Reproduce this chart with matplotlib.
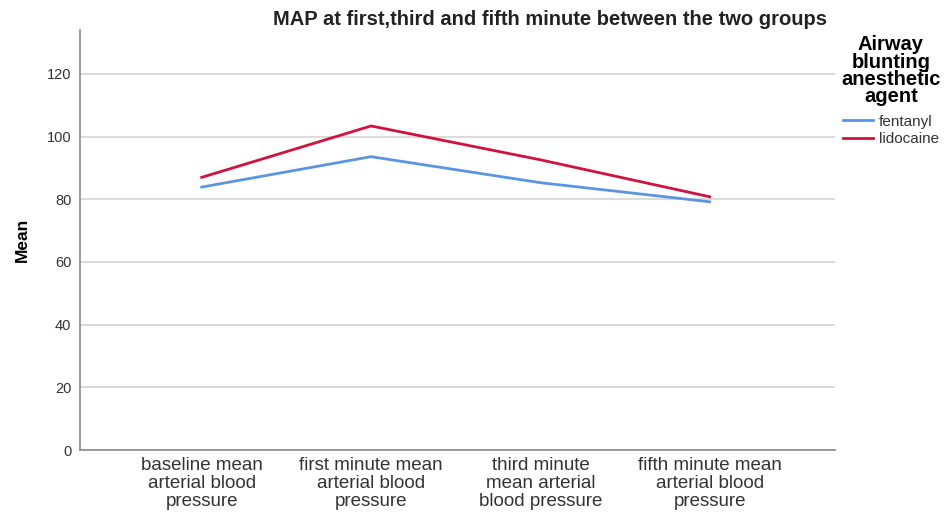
import matplotlib
matplotlib.use("Agg")
import matplotlib.pyplot as plt

plt.rcParams["font.family"] = ["Liberation Sans", "DejaVu Sans"]

categories = [
    "baseline mean\narterial blood\npressure",
    "first minute mean\narterial blood\npressure",
    "third minute\nmean arterial\nblood pressure",
    "fifth minute mean\narterial blood\npressure",
]
fentanyl = [83.9, 93.6, 85.3, 79.2]
lidocaine = [87.0, 103.4, 92.6, 80.8]
yticks = [0, 20, 40, 60, 80, 100, 120]

fig = plt.figure(figsize=(9.5, 5.14), dpi=100)
ax = fig.add_axes([0.084, 0.1245, 0.795, 0.817])

x = list(range(len(categories)))
ax.plot(x, fentanyl, color="#5B95E2", lw=2.0, label="fentanyl", zorder=3)
ax.plot(x, lidocaine, color="#D0123E", lw=2.0, label="lidocaine", zorder=3)

ax.set_xlim(-0.72, 3.74)
ax.set_ylim(0, 134)
ax.set_yticks(yticks)
ax.set_xticks(x)
ax.set_xticklabels(categories, fontsize=13.5, color="#333333", linespacing=1.08)
ax.tick_params(axis="y", length=0, pad=6, labelsize=10.5, labelcolor="#333333")
ax.tick_params(axis="x", length=0, pad=5)
ax.yaxis.grid(True, color="#d4d4d4", lw=1.2)
ax.set_axisbelow(True)
for s in ["top", "right"]:
    ax.spines[s].set_visible(False)
for s in ["left", "bottom"]:
    ax.spines[s].set_color("#8a8a8a")
    ax.spines[s].set_linewidth(1.2)

ax.set_ylabel("Mean", fontsize=12.5, fontweight="bold", labelpad=12)

fig.text(0.579, 0.963, "MAP at first,third and fifth minute between the two groups",
         ha="center", va="center", fontsize=14.5, fontweight="bold", color="#222222")

leg = ax.legend(title="Airway\nblunting\nanesthetic\nagent", loc="upper left",
                bbox_to_anchor=(0.99, 1.02), frameon=False, fontsize=11,
                handlelength=2.0, handletextpad=0.4, labelspacing=0.2)
leg.get_title().set_fontweight("bold")
leg.get_title().set_fontsize(14.5)
leg.get_title().set_multialignment("center")
leg.get_title().set_linespacing(0.89)
leg._legend_box.sep = 6
for t in leg.get_texts():
    t.set_color("#333333")

fig.savefig("out.png", dpi=100)
